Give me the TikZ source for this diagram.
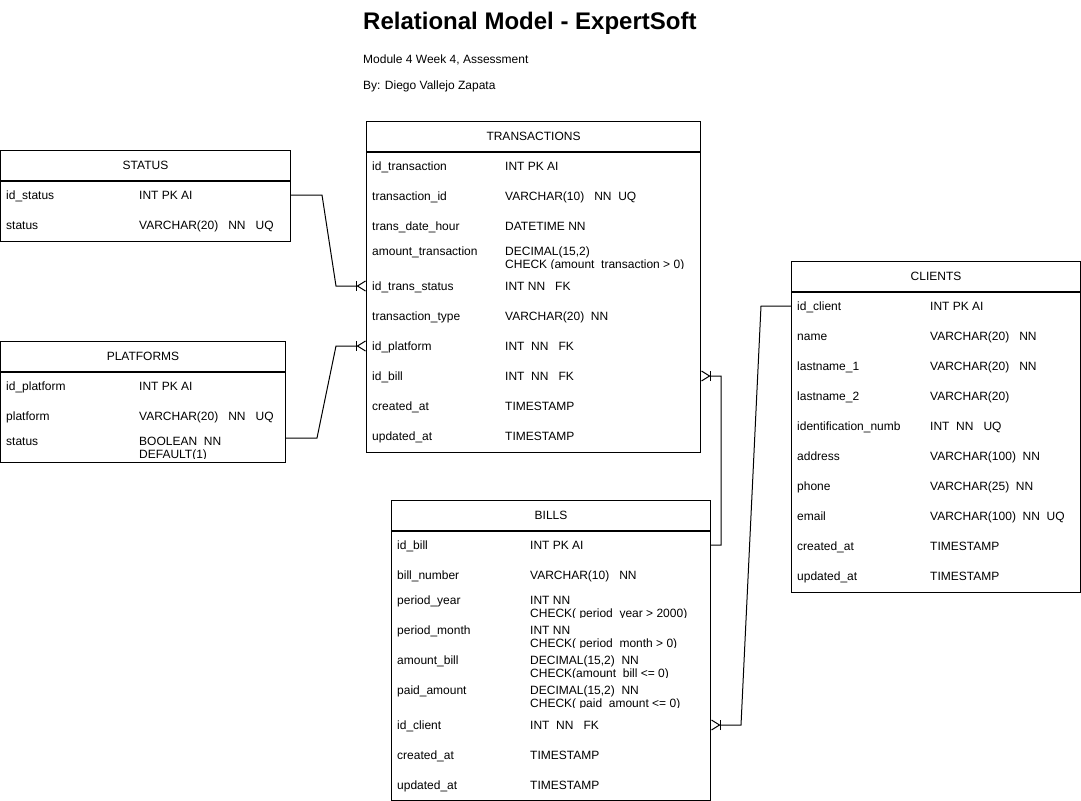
\documentclass[tikz,border=0pt]{standalone}
\usepackage{fontspec}
\setmainfont{Liberation Sans}
\usetikzlibrary{arrows.meta}

% one row of a table: x, top, name, field, type
\newcommand\erow[5]{%
  \coordinate (#3) at (#1,#2+15);
  \node[cell] (#3-f) at (#1+6,#2+19.5) {#4};
  \node[cell] (#3-t) at (#1+139,#2+19.5) {#5};}
% row with a type on two lines, cut at the bottom of the row
\newcommand\erowii[6]{%
  \coordinate (#3) at (#1,#2+15);
  \node[cell] (#3-f) at (#1+6,#2+14.3) {#4};
  \begin{scope}
    \clip (#1+130,#2) rectangle (#1+330,#2+27.9);
    \node[cell] (#3-t) at (#1+139,#2+14.3) {#5};
    \node[cell] (#3-u) at (#1+139,#2+27.3) {#6};
  \end{scope}}

\begin{document}
\begin{tikzpicture}[x=1bp,y=-1bp,
  every node/.style={font=\fontsize{12bp}{14bp}\selectfont, inner sep=0pt},
  frame/.style={draw, line width=1bp},
  tbl/.style={frame, anchor=north west, minimum height=30bp},
  cell/.style={anchor=base west},
  link/.style={line width=1bp},
  many/.style={-{Bar[width=10bp,line width=1bp]Straight Barb[reversed,length=8bp,width=10bp,line width=1bp]}}]
\useasboundingbox (0,0) rectangle (1081,801);

\node[anchor=base west, font=\bfseries\fontsize{24bp}{28bp}\selectfont] (title) at (363,30) {Relational Model - ExpertSoft};
\node[anchor=base west] (sub) at (363,64) {Module 4 Week 4, Assessment};
\node[anchor=base west] (by) at (363,90) {By: Diego Vallejo Zapata};

% STATUS
\node[tbl, minimum width=290bp] (status) at (0,150) {STATUS};
\draw[frame] (status.south west) rectangle ++(290,60);
\erow{0}{180}{st-id}{id\_status}{INT PK AI}
\erow{0}{210}{st-st}{status}{VARCHAR(20)\ \ \ NN\ \ \ UQ}

% TRANSACTIONS
\node[tbl, minimum width=334bp] (tr) at (366,121) {TRANSACTIONS};
\draw[frame] (tr.south west) rectangle ++(334,300);
\erow{366}{151}{tr-id}{id\_transaction}{INT PK AI}
\erow{366}{181}{tr-tid}{transaction\_id}{VARCHAR(10)\ \ \ NN\ \ UQ}
\erow{366}{211}{tr-date}{trans\_date\_hour}{DATETIME NN}
\erowii{366}{241}{tr-amt}{amount\_transaction}{DECIMAL(15,2)}{CHECK (amount\_transaction > 0)}
\erow{366}{271}{tr-stat}{id\_trans\_status}{INT NN\ \ \ FK}
\erow{366}{301}{tr-type}{transaction\_type}{VARCHAR(20)\ \ NN}
\erow{366}{331}{tr-plat}{id\_platform}{INT\ \ NN\ \ \ FK}
\erow{366}{361}{tr-bill}{id\_bill}{INT\ \ NN\ \ \ FK}
\erow{366}{391}{tr-cre}{created\_at}{TIMESTAMP}
\erow{366}{421}{tr-upd}{updated\_at}{TIMESTAMP}

% PLATFORMS
\node[tbl, minimum width=285bp] (pl) at (0,341) {PLATFORMS};
\draw[frame] (pl.south west) rectangle ++(285,90);
\erow{0}{371}{pl-id}{id\_platform}{INT PK AI}
\erow{0}{401}{pl-pl}{platform}{VARCHAR(20)\ \ \ NN\ \ \ UQ}
\erowii{0}{431}{pl-st}{status}{BOOLEAN\ \ NN}{DEFAULT(1)}

% CLIENTS
\node[tbl, minimum width=289bp] (cl) at (791,261) {CLIENTS};
\draw[frame] (cl.south west) rectangle ++(289,300);
\erow{791}{291}{cl-id}{id\_client}{INT PK AI}
\erow{791}{321}{cl-name}{name}{VARCHAR(20)\ \ \ NN}
\erow{791}{351}{cl-ln1}{lastname\_1}{VARCHAR(20)\ \ \ NN}
\erow{791}{381}{cl-ln2}{lastname\_2}{VARCHAR(20)}
\erow{791}{411}{cl-num}{identification\_numb}{INT\ \ NN\ \ \ UQ}
\erow{791}{441}{cl-adr}{address}{VARCHAR(100)\ \ NN}
\erow{791}{471}{cl-ph}{phone}{VARCHAR(25)\ \ NN}
\erow{791}{501}{cl-mail}{email}{VARCHAR(100)\ \ NN\ \ UQ}
\erow{791}{531}{cl-cre}{created\_at}{TIMESTAMP}
\erow{791}{561}{cl-upd}{updated\_at}{TIMESTAMP}

% BILLS
\node[tbl, minimum width=319bp] (bi) at (391,500) {BILLS};
\draw[frame] (bi.south west) rectangle ++(319,269.5);
\erow{391}{530}{bi-id}{id\_bill}{INT PK AI}
\erow{391}{560}{bi-num}{bill\_number}{VARCHAR(10)\ \ \ NN}
\erowii{391}{590}{bi-yr}{period\_year}{INT NN}{CHECK( period\_year > 2000)}
\erowii{391}{620}{bi-mo}{period\_month}{INT NN}{CHECK( period\_month > 0)}
\erowii{391}{650}{bi-amt}{amount\_bill}{DECIMAL(15,2)\ \ NN}{CHECK(amount\_bill <= 0)}
\erowii{391}{680}{bi-paid}{paid\_amount}{DECIMAL(15,2)\ \ NN}{CHECK( paid\_amount <= 0)}
\erow{391}{710}{bi-cl}{id\_client}{INT\ \ NN\ \ \ FK}
\erow{391}{740}{bi-cre}{created\_at}{TIMESTAMP}
\erow{391}{770}{bi-upd}{updated\_at}{TIMESTAMP}

% relations
\draw[link, many] (st-id -| status.east) -- ++(31,0) -- ([xshift=-30bp]tr-stat) -- (tr-stat);
\draw[link, many] ([yshift=8bp]pl-st -| pl.east) -- ++(31,0) -- ([xshift=-30bp]tr-plat) -- (tr-plat);
\draw[link, many] (bi-id -| bi.east) -- ++(10,0) -- ([xshift=20bp]tr-bill -| tr.east) -- (tr-bill -| tr.east);
\draw[link, many] (cl-id) -- ++(-30,0) -- ([xshift=30bp]bi-cl -| bi.east) -- (bi-cl -| bi.east);
\end{tikzpicture}
\end{document}
